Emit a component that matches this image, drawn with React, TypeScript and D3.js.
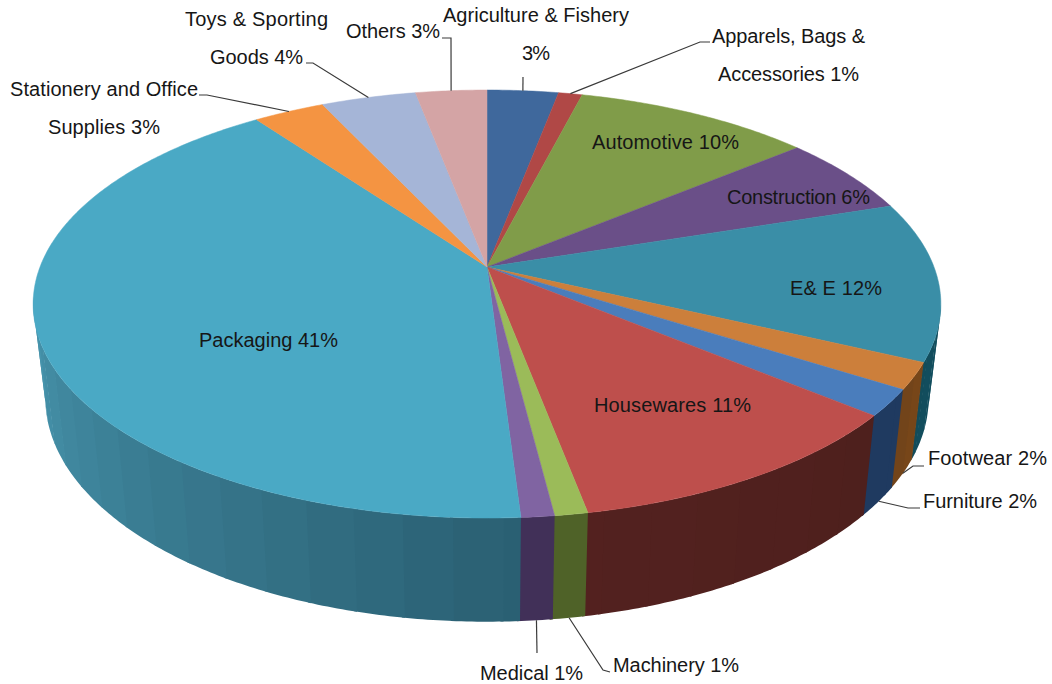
import React from "react";
import * as d3 from "d3";

// Share of each sector, clockwise from twelve o'clock
const sectors = [
  "Agriculture & Fishery", "Apparels, Bags & Accessories", "Automotive", "Construction", "E& E",
  "Footwear", "Furniture", "Housewares", "Machinery", "Medical", "Packaging",
  "Stationery and Office Supplies", "Toys & Sporting Goods", "Others",
];
const shares = [3, 1, 10, 6, 12, 2, 2, 11, 1, 1, 41, 3, 4, 3];

const faceColors = [
  "#3f689c", "#b04846", "#809c49", "#6a4f88", "#3a8ea7", "#cc7f3b", "#4a7dbc",
  "#be4f4c", "#9bbb59", "#8064a2", "#4aa9c5", "#f49442", "#a5b5d7", "#d4a4a5",
];
// Rim wall colour at the start and end of each sector's arc
const wallStart = [
  "#1f3a5f", "#5c2220", "#4a5c26", "#3b2b50", "#14566a", "#7a4718", "#1f3a60",
  "#4e201d", "#4f6228", "#413058", "#2a5f72", "#a85f20", "#5d6c8c", "#8a5e5e",
];
const wallEnd = [
  "#1f3a5f", "#5c2220", "#4a5c26", "#3b2b50", "#124c5b", "#70431a", "#1f3a60",
  "#53211f", "#4f6228", "#413058", "#5cbcd8", "#a85f20", "#5d6c8c", "#8a5e5e",
];

// Label text lines and baselines, kept apart from the values above
const labelLayout = [
  { lines: [["Agriculture & Fishery", 443, 22, 186], ["3%", 522, 60, 28]], elbow: [[523, 77]], rim: "top" },
  { lines: [["Apparels, Bags &", 712, 43, 153], ["Accessories 1%", 718, 81, 141]], elbow: [[710, 42], [700, 42]], rim: "top" },
  { lines: [["Automotive 10%", 592, 149, 147]], elbow: [], rim: "" },
  { lines: [["Construction 6%", 727, 204, 143]], elbow: [], rim: "" },
  { lines: [["E& E 12%", 790, 295, 92]], elbow: [], rim: "" },
  { lines: [["Footwear 2%", 928, 465, 119]], elbow: [[924, 466], [913, 466]], rim: "bottom" },
  { lines: [["Furniture 2%", 923, 508, 114]], elbow: [[920, 508], [908, 508]], rim: "bottom" },
  { lines: [["Housewares 11%", 594, 412, 157]], elbow: [], rim: "" },
  { lines: [["Machinery 1%", 613, 672, 126]], elbow: [[610, 672], [603, 670]], rim: "bottom" },
  { lines: [["Medical 1%", 480, 680, 103]], elbow: [[537, 653]], rim: "bottom" },
  { lines: [["Packaging 41%", 199, 347, 139]], elbow: [], rim: "" },
  { lines: [["Stationery and Office", 10, 96, 188], ["Supplies 3%", 48, 134, 112]], elbow: [[199, 95], [207, 95]], rim: "top" },
  { lines: [["Toys & Sporting", 185, 26, 143], ["Goods 4%", 210, 64, 93]], elbow: [[306, 63], [313, 63]], rim: "top" },
  { lines: [["Others 3%", 346, 38, 94]], elbow: [[442, 38], [451, 38]], rim: "top" },
];

// Perspective disc: the same tilt for the upper face and the lower rim
const CX = 487;
const TILT = 0.173;
const topPlane = { y0: 267, k: 207.6, a: 447 };
const bottomPlane = { y0: 359.3, k: 217, a: 435 };

type Plane = typeof topPlane;
const project = (plane: Plane, angle: number): [number, number] => {
  const u = Math.sin(angle);
  const v = -Math.cos(angle);
  const s = 1 / (1 - TILT * v);
  return [CX + plane.a * u * s, plane.y0 + plane.k * v * s];
};

const arcs = d3.pie<number>().sort(null)(shares);
const line = d3.line<[number, number]>();
const BAND = (Math.PI * 2) * 0.015;
const WALL_FROM = (Math.PI * 100) / 180;
const WALL_TO = (Math.PI * 262) / 180;
const BAND_OVERLAP = 0.006;

const sampleArc = (start: number, end: number, step: number) => {
  const angles = d3.range(start, end, step);
  angles.push(end);
  return angles;
};

export default function App() {
  return (
    <svg
      width={1052}
      height={684}
      viewBox="0 0 1052 684"
      style={{ position: "absolute", left: 0, top: 0, background: "#fff" }}
      fontFamily="'Liberation Sans', Arial, sans-serif"
    >
      <g>
        {arcs.map((arc, i) => {
          const start = Math.max(arc.startAngle, WALL_FROM);
          const end = Math.min(arc.endAngle, WALL_TO);
          if (end <= start) return null;
          const first = Math.ceil(start / BAND) * BAND;
          const edges = [start, ...d3.range(first, end, BAND), end];
          const tone = d3.interpolateRgb(wallStart[i], wallEnd[i]);
          return edges.slice(0, -1).map((a0, j) => {
            // Each band runs slightly under the next so no seam shows between them
            const a1 = Math.min(edges[j + 1] + BAND_OVERLAP, WALL_TO);
            const mid = ((a0 + a1) / 2 - arc.startAngle) / (arc.endAngle - arc.startAngle);
            const steps = sampleArc(a0, a1, 0.01);
            const outline = [
              ...steps.map((a) => project(topPlane, a)),
              ...steps.slice().reverse().map((a) => project(bottomPlane, a)),
            ];
            return <path key={`${i}-${j}`} d={`${line(outline)}Z`} fill={tone(mid)} />;
          });
        })}
      </g>
      <g>
        {arcs.map((arc, i) => {
          const rim = sampleArc(arc.startAngle, arc.endAngle, 0.01).map((a) => project(topPlane, a));
          return (
            <path
              key={sectors[i]}
              d={`${line([[CX, topPlane.y0], ...rim])}Z`}
              fill={faceColors[i]}
              stroke={faceColors[i]}
              strokeWidth={0.5}
            />
          );
        })}
      </g>
      <g fill="none" stroke="#3a3a3a" strokeWidth={1.2}>
        {arcs.map((arc, i) => {
          const layout = labelLayout[i];
          if (!layout.rim) return null;
          const mid = (arc.startAngle + arc.endAngle) / 2;
          const anchor = project(layout.rim === "top" ? topPlane : bottomPlane, mid);
          return <path key={sectors[i]} d={line([...(layout.elbow as [number, number][]), anchor]) as string} />;
        })}
      </g>
      <g fontSize={20} fill="#161616">
        {labelLayout.flatMap((layout) =>
          layout.lines.map(([text, x, y, width]) => (
            <text key={text as string} x={x as number} y={y as number} textLength={width as number} lengthAdjust="spacing">
              {text}
            </text>
          )),
        )}
      </g>
    </svg>
  );
}
